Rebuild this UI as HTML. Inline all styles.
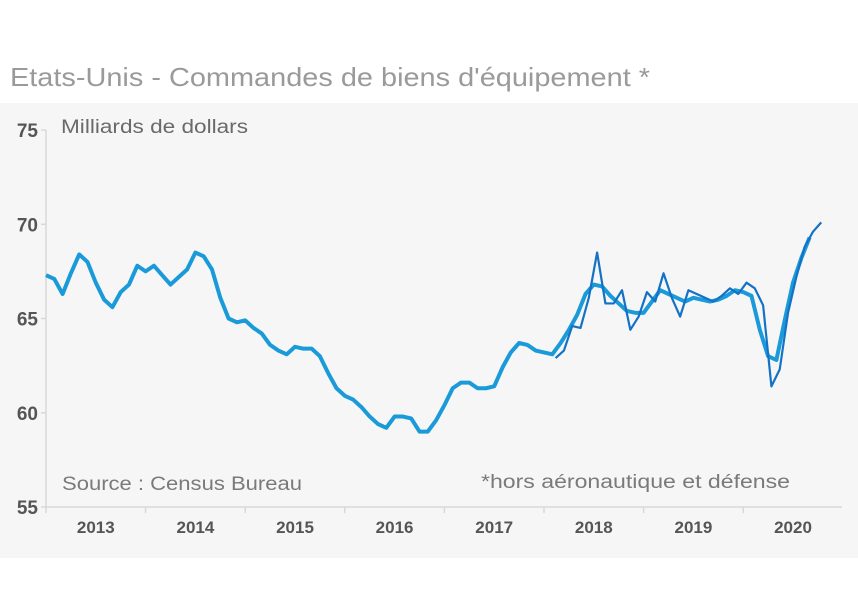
<!DOCTYPE html>
<html><head><meta charset="utf-8"><style>
body{margin:0;background:#fff;font-family:"Liberation Sans",sans-serif}
svg{display:block}
</style></head><body>
<svg width="858" height="600" viewBox="0 0 858 600">
<rect x="0" y="103" width="858" height="455" fill="#f6f6f6"/>
<text x="10" y="86" font-size="26" fill="#9a9a9a" textLength="640" lengthAdjust="spacingAndGlyphs">Etats-Unis - Commandes de biens d'équipement *</text>
<text x="61" y="133" font-size="19" fill="#6a6a6a" textLength="187" lengthAdjust="spacingAndGlyphs">Milliards de dollars</text>
<text x="62" y="490" font-size="19" fill="#7a7a7a" textLength="240" lengthAdjust="spacingAndGlyphs">Source : Census Bureau</text>
<text x="481" y="488" font-size="19" fill="#7a7a7a" textLength="309" lengthAdjust="spacingAndGlyphs">*hors aéronautique et défense</text>
<g id="axes"></g>
<g id="series"></g>
</svg>
<script>
const yTicks=[55,60,65,70,75];
const years=["2013","2014","2015","2016","2017","2018","2019","2020"];
const mainSeries=[67.3,67.1,66.3,67.4,68.4,68.0,66.9,66.0,65.6,66.4,66.8,67.8,
67.5,67.8,67.3,66.8,67.2,67.6,68.5,68.3,67.6,66.1,65.0,64.8,
64.9,64.5,64.2,63.6,63.3,63.1,63.5,63.4,63.4,63.0,62.1,61.3,
60.9,60.7,60.3,59.8,59.4,59.2,59.8,59.8,59.7,59.0,59.0,59.6,
60.4,61.3,61.6,61.6,61.3,61.3,61.4,62.4,63.2,63.7,63.6,63.3,
63.2,63.1,63.7,64.4,65.2,66.3,66.8,66.7,66.2,65.8,65.4,65.3,
65.3,65.9,66.5,66.3,66.1,65.9,66.1,66.0,65.9,66.0,66.2,66.5,
66.4,66.2,64.4,63.0,62.8,64.9,66.9,68.2,69.3];
const secondStart=61.4;
const secondSeries=[62.9,63.3,64.6,64.5,66.1,68.5,65.8,65.8,66.5,64.4,65.1,66.4,65.9,67.4,66.1,65.1,66.5,66.3,66.1,65.9,66.2,66.6,66.3,66.9,66.6,65.7,61.4,62.3,65.3,67.2,68.8,69.6,70.1];
const NS="http://www.w3.org/2000/svg";
const x0=46,monthW=8.3;
const xs=i=>x0+i*monthW;
const ys=v=>507-(v-55)*(377/20);
const axes=document.getElementById('axes'),ser=document.getElementById('series');
function mk(tag,attrs,parent){const e=document.createElementNS(NS,tag);for(const k in attrs)e.setAttribute(k,attrs[k]);parent.appendChild(e);return e;}
let l=mk('line',{x1:x0,y1:ys(75),x2:x0,y2:507,stroke:'#d8d8d8','stroke-width':1.5},axes);


l=mk('line',{x1:x0,y1:507,x2:842,y2:507,stroke:'#d8d8d8','stroke-width':1.5},axes);


yTicks.forEach(v=>{
 const t=mk('text',{x:38,y:ys(v)+7,'font-size':19,'font-weight':'bold',fill:'#555','text-anchor':'end'},axes);
 t.textContent=v;
 
 
 const tk=mk('line',{x1:x0-5,y1:ys(v),x2:x0,y2:ys(v),stroke:'#d8d8d8','stroke-width':1.5},axes);
 
 
});
years.forEach((y,i)=>{
 const tk=mk('line',{x1:xs(i*12),y1:507,x2:xs(i*12),y2:513,stroke:'#d8d8d8','stroke-width':1.5},axes);
 
 
 const t=mk('text',{x:xs(i*12+6),y:533,'font-size':17,'font-weight':'bold',fill:'#555','text-anchor':'middle'},axes);
 t.textContent=y;
 
 
});
let p=mk('polyline',{points:mainSeries.map((v,i)=>xs(i)+','+ys(v)).join(' '),fill:'none',stroke:'#1a9ad8','stroke-width':4,'stroke-linejoin':'round'},ser);


p=mk('polyline',{points:secondSeries.map((v,i)=>xs(secondStart+i)+','+ys(v)).join(' '),fill:'none',stroke:'#1372c6','stroke-width':2.2,'stroke-linejoin':'round'},ser);


</script>
</body></html>
